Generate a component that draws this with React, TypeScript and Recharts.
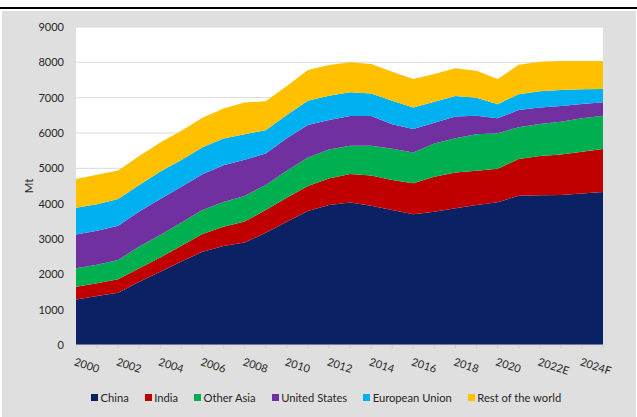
import React from 'react';
import { AreaChart, Area, XAxis, YAxis, CartesianGrid } from 'recharts';

const years = ['2000','2001','2002','2003','2004','2005','2006','2007','2008','2009','2010','2011','2012','2013','2014','2015','2016','2017','2018','2019','2020','2021','2022E','2023F','2024F','2025F'];
const china = [1290,1390,1480,1790,2075,2360,2640,2800,2900,3180,3490,3790,3960,4030,3940,3820,3700,3770,3870,3960,4040,4225,4235,4245,4290,4330];
const india = [360,360,380,380,400,450,500,545,595,640,680,710,755,810,860,850,880,990,1010,970,945,1040,1115,1150,1180,1215];
const otherAsia = [520,520,545,615,640,660,680,705,725,705,765,810,820,800,840,885,870,945,970,1035,1010,895,905,925,945,945];
const unitedStates = [960,960,970,990,1020,1010,1010,1040,1020,895,915,915,830,840,840,690,660,585,615,520,425,490,470,445,405,380];
const europeanUnion = [755,755,755,755,775,755,765,755,725,660,660,690,690,670,640,670,610,595,585,510,395,450,460,455,415,375];
const restOfWorld = [810,830,810,820,820,830,840,850,895,820,820,870,870,850,830,820,805,785,785,765,715,830,830,820,800,790];
const yTicks = [0,1000,2000,3000,4000,5000,6000,7000,8000,9000];

const series = [
  { key: 'china', name: 'China', color: '#0A2163', values: china },
  { key: 'india', name: 'India', color: '#C00000', values: india },
  { key: 'otherAsia', name: 'Other Asia', color: '#00B050', values: otherAsia },
  { key: 'us', name: 'United States', color: '#7030A0', values: unitedStates },
  { key: 'eu', name: 'European Union', color: '#00B0F0', values: europeanUnion },
  { key: 'row', name: 'Rest of the world', color: '#FFC000', values: restOfWorld },
];

const data = years.map((year, i) => {
  const row: Record<string, string | number> = { year };
  series.forEach((s) => { row[s.key] = s.values[i]; });
  return row;
});

const FONT = 'Lato, "Open Sans", sans-serif';
const TEXT = '#262626';

function XTick(props: any) {
  const { x, y, payload, index } = props;
  const idx = typeof index === 'number' ? index : payload.index;
  const ax = x - 2.5;
  const ay = y + 20;
  return (
    <g>
      <line x1={x} x2={x} y1={y} y2={y + 4} stroke="#D0D0D0" />
      {idx % 2 === 0 && (
        <text x={ax} y={ay} transform={`rotate(18 ${ax} ${ay})`} textAnchor="start" fontSize={11} fontFamily={FONT} fill={TEXT}>
          {payload.value}
        </text>
      )}
    </g>
  );
}

export default function App() {
  return (
    <div style={{ position: 'absolute', left: 0, top: 0, width: 637, height: 417, background: '#fff', overflow: 'hidden' }}>
      <div style={{ position: 'absolute', left: 0, top: 7, width: 637, height: 2, background: '#000' }} />
      <div style={{ position: 'absolute', left: 2, top: 11, width: 634, height: 406, background: '#DFDFDF' }} />
      <div style={{ position: 'absolute', left: 0, top: 0 }}>
        <AreaChart width={637} height={417} data={data} margin={{ top: 27, right: 34, bottom: 32, left: 16 }}>
          <CartesianGrid vertical={false} stroke="#D9D9D9" fill="#FFFFFF" />
          <XAxis
            dataKey="year"
            interval={0}
            tickLine={false}
            tickSize={0}
            tickMargin={0}
            height={40}
            axisLine={{ stroke: '#D9D9D9' }}
            tick={<XTick />}
          />
          <YAxis
            domain={[0, 9000]}
            ticks={yTicks}
            width={60}
            tickLine={false}
            axisLine={false}
            tickSize={0}
            tickMargin={12}
            tick={{ fontSize: 11, fontFamily: FONT, fill: TEXT }}
            label={(p: any) => {
              const vb = p.viewBox || { x: 16, y: 27, height: 318 };
              const lx = vb.x + 12;
              const ly = vb.y + vb.height / 2;
              return (
                <text x={lx} y={ly} transform={`rotate(-90 ${lx} ${ly})`} textAnchor="middle" dominantBaseline="central" fontSize={11.5} fontFamily={FONT} fill={TEXT}>
                  Mt
                </text>
              );
            }}
          />
          {series.map((s) => (
            <Area
              key={s.key}
              type="linear"
              dataKey={s.key}
              name={s.name}
              stackId="1"
              stroke="none"
              fill={s.color}
              fillOpacity={1}
              isAnimationActive={false}
              dot={false}
              activeDot={false}
            />
          ))}
        </AreaChart>
      </div>
      <div style={{ position: 'absolute', left: 91, top: 389, display: 'flex', alignItems: 'center', gap: 16, fontFamily: FONT, fontSize: 11.2, color: TEXT, whiteSpace: 'nowrap' }}>
        {series.map((s) => (
          <div key={s.key} style={{ display: 'flex', alignItems: 'center', height: 16 }}>
            <span style={{ width: 7, height: 7, background: s.color, display: 'inline-block', marginRight: 2.5 }} />
            <span>{s.name}</span>
          </div>
        ))}
      </div>
    </div>
  );
}
